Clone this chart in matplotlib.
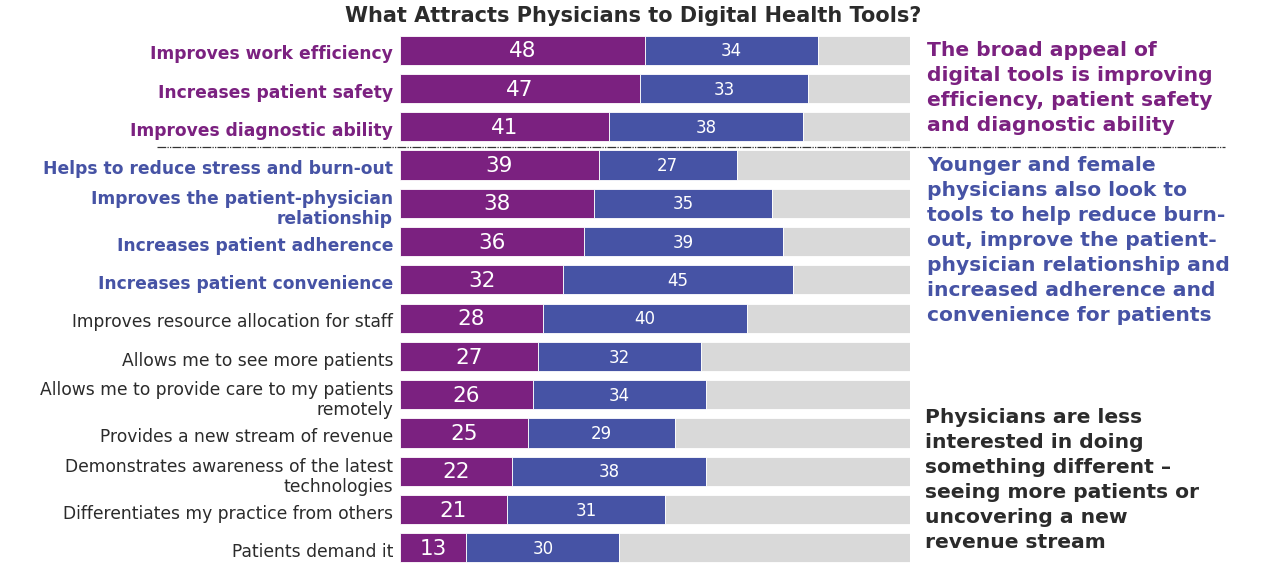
import matplotlib.pyplot as plt
from matplotlib.lines import Line2D

# data
labels = ['Improves work efficiency', 'Increases patient safety', 'Improves diagnostic ability',
          'Helps to reduce stress and burn-out', 'Improves the patient-physician\nrelationship',
          'Increases patient adherence', 'Increases patient convenience',
          'Improves resource allocation for staff', 'Allows me to see more patients',
          'Allows me to provide care to my patients\nremotely', 'Provides a new stream of revenue',
          'Demonstrates awareness of the latest\ntechnologies', 'Differentiates my practice from others',
          'Patients demand it']
first = [48, 47, 41, 39, 38, 36, 32, 28, 27, 26, 25, 22, 21, 13]
second = [34, 33, 38, 27, 35, 39, 45, 40, 32, 34, 29, 38, 31, 30]

purple = '#7B2180'
blue = '#4653A5'
grey = '#D9D9D9'
dark = '#2b2b2b'
label_colors = [purple] * 3 + [blue] * 4 + [dark] * 7

fig = plt.figure(figsize=(12.65, 5.72), dpi=100)
ax = fig.add_axes([400 / 1265, 5 / 572, 510 / 1265, 536 / 572])

y = list(range(len(labels)))
rest = [100 - a - b for a, b in zip(first, second)]
h = 0.76
ax.barh(y, first, height=h, color=purple, edgecolor='white', linewidth=0.6)
ax.barh(y, second, left=first, height=h, color=blue, edgecolor='white', linewidth=0.6)
ax.barh(y, rest, left=[a + b for a, b in zip(first, second)], height=h, color=grey,
        edgecolor='white', linewidth=0.6)

for i in y:
    ax.text(first[i] / 2, i + 0.03, str(first[i]), ha='center', va='center', color='white', fontsize=15.5)
    ax.text(first[i] + second[i] / 2, i + 0.03, str(second[i]), ha='center', va='center',
            color='white', fontsize=12)

ax.set_xlim(0, 100)
ax.set_ylim(len(labels) - 0.5, -0.5)
ax.set_yticks([v + 0.06 for v in y])
ax.set_yticklabels(labels, fontsize=12.3, linespacing=1.15)
for t, c, i in zip(ax.get_yticklabels(), label_colors, y):
    t.set_color(c)
    if i < 7:
        t.set_fontweight('bold')
ax.tick_params(axis='y', length=0, pad=5)
ax.set_xticks([])
for s in ax.spines.values():
    s.set_visible(False)

# separator line
fig.add_artist(Line2D([157 / 1265, 1225 / 1265], [1 - 147 / 572, 1 - 147 / 572],
                      color='#333333', linewidth=0.9, dashes=(7, 1, 1, 1, 1, 1)))

fig.text(633 / 1265, 1 - 16 / 572, 'What Attracts Physicians to Digital Health Tools?',
         ha='center', va='center', fontsize=15, fontweight='bold', color=dark)

fig.text(927 / 1265, 1 - 41 / 572,
         'The broad appeal of\ndigital tools is improving\nefficiency, patient safety\nand diagnostic ability',
         ha='left', va='top', fontsize=14.6, fontweight='bold', color=purple, linespacing=1.4)
fig.text(927 / 1265, 1 - 156 / 572,
         'Younger and female\nphysicians also look to\ntools to help reduce burn-\nout, improve the patient-\n'
         'physician relationship and\nincreased adherence and\nconvenience for patients',
         ha='left', va='top', fontsize=14.6, fontweight='bold', color=blue, linespacing=1.4)
fig.text(925 / 1265, 1 - 408 / 572,
         'Physicians are less\ninterested in doing\nsomething different \u2013\nseeing more patients or\n'
         'uncovering a new\nrevenue stream',
         ha='left', va='top', fontsize=14.6, fontweight='bold', color=dark, linespacing=1.4)

fig.savefig('out.png', dpi=100)
